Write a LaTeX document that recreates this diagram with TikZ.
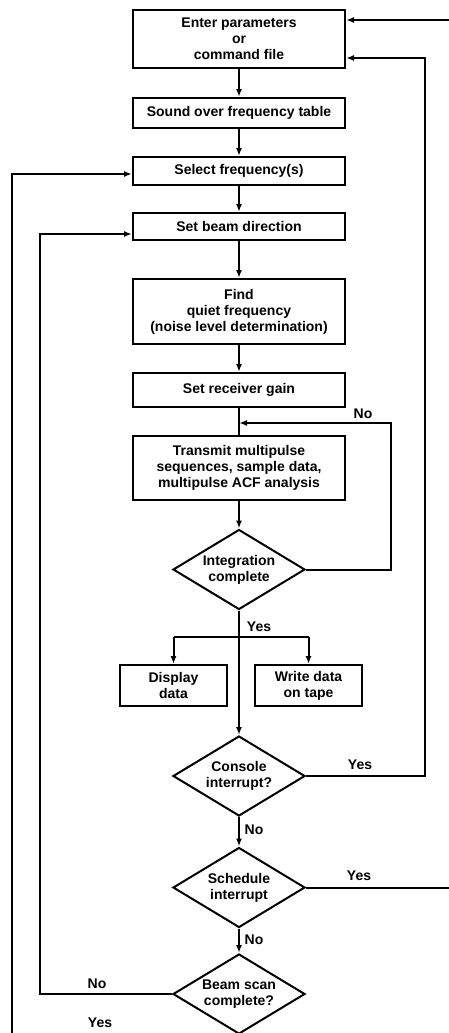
\documentclass[tikz,border=0pt]{standalone}
\usepackage{fontspec}
\setmainfont{Liberation Sans}
\usepackage{tikz}
\usetikzlibrary{arrows.meta,shapes.geometric}

\begin{document}
\begin{tikzpicture}[x=1pt,y=-1pt,
 font=\fontsize{14}{16}\bfseries\selectfont,
 box/.style={draw,line width=2pt,align=center,minimum width=212pt,inner sep=2pt},
 decision/.style={draw,diamond,aspect=1.7,line width=2pt,align=center,minimum width=132pt,minimum height=80pt,inner sep=1pt},
 flow/.style={line width=2pt,-{Latex[length=8pt,width=6pt]}},
 link/.style={line width=2pt},
 lab/.style={inner sep=0pt}]
 \useasboundingbox (0,0) rectangle (449,1033);
 \clip (0,0) rectangle (449,1033);

 \node (enter) at (239,39) [box,minimum height=58pt] {Enter parameters\\or\\command file}; % top box
 \node (sound) at (239,113) [box,minimum height=30pt] {Sound over frequency table};
 \node (select) at (239,171) [box,minimum height=28pt] {Select frequency(s)};
 \node (beam) at (239,226.5) [box,minimum height=27pt] {Set beam direction};
 \node (quiet) at (239,311.5) [box,minimum height=65pt] {Find\\quiet frequency\\(noise level determination)};
 \node (gain) at (239,390) [box,minimum height=34pt] {Set receiver gain};
 \node (trans) at (239,468) [box,minimum height=64pt] {Transmit multipulse\\sequences, sample data,\\multipulse ACF analysis};
 \node (integ) at (239,569.5) [decision] {Integration\\complete};
 \node (disp) at (173.5,685.5) [box,minimum width=107pt,minimum height=41pt] {Display\\data};
 \node (write) at (308.5,685.5) [box,minimum width=107pt,minimum height=41pt] {Write data\\on tape};
 \node (console) at (239,776) [decision] {Console\\interrupt?};
 \node (sched) at (239,887.5) [decision] {Schedule\\interrupt};
 \node (scan) at (239,994) [decision] {Beam scan\\complete?}; % cut at the bottom edge

 \coordinate (merge) at (239,423); % loop back above transmit box
 \coordinate (loopR) at (391,423);
 \coordinate (splitL) at (173.5,637); % branch to display / tape
 \coordinate (splitR) at (308.5,637);
 \coordinate (retR) at (425,58); % console interrupt return
 \coordinate (topR) at (449,20); % from right edge
 \coordinate (schedR) at (449,887.5); % to right edge
 \coordinate (noL) at (40,234); % beam scan not complete
 \coordinate (yesB) at (12,1033); % from bottom edge
 \coordinate (yesL) at (12,174);

 \draw [flow] (enter) -- (sound);
 \draw [flow] (sound) -- (select);
 \draw [flow] (select) -- (beam);
 \draw [flow] (beam) -- (quiet);
 \draw [flow] (quiet) -- (gain);
 \draw [link] (gain) -- (trans);
 \draw [flow] (trans) -- (integ);
 \draw [flow] (integ.east) -| (loopR) -- (merge);
 \draw [flow] (integ) -- (console);
 \draw [link] (splitL) -- (splitR);
 \draw [flow] (splitL) -- (disp);
 \draw [flow] (splitR) -- (write);
 \draw [flow] (console.east) -| (retR) -- (enter.east |- retR);
 \draw [flow] (topR) -- (enter.east |- topR);
 \draw [flow] (console) -- (sched);
 \draw [link] (sched.east) -- (schedR);
 \draw [flow] (sched) -- (scan);
 \draw [flow] (scan.west) -| (noL) -- (beam.west |- noL);
 \draw [flow] (yesB) -- (yesL) -- (select.west |- yesL);

 \node (noI) at (363,414) [lab] {No};
 \node (yesI) at (259,627) [lab] {Yes};
 \node (yesC) at (360,765) [lab] {Yes};
 \node (noC) at (254,830) [lab] {No};
 \node (yesS) at (359,876) [lab] {Yes};
 \node (noS) at (254,940) [lab] {No};
 \node (noB) at (97,984) [lab] {No};
 \node (yesB') at (100,1023) [lab] {Yes};
\end{tikzpicture}
\end{document}
